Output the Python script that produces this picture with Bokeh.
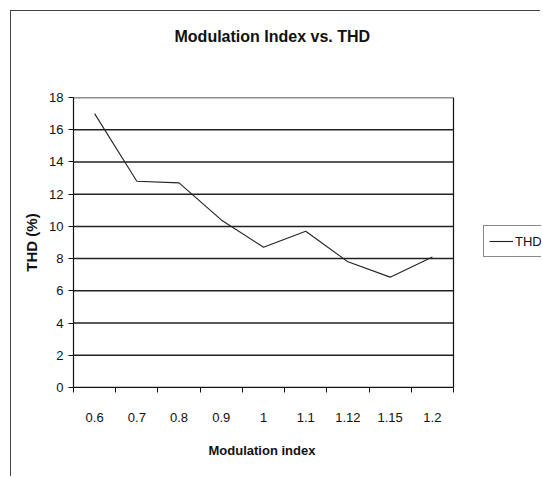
from bokeh.plotting import figure
from bokeh.models import FixedTicker, Legend, Range1d, Title, Span
from bokeh.embed import file_html
from bokeh.resources import INLINE

categories = ["0.6", "0.7", "0.8", "0.9", "1", "1.1", "1.12", "1.15", "1.2"]
thd = [17.0, 12.8, 12.7, 10.4, 8.7, 9.7, 7.8, 6.85, 8.1]
y_ticks = [0, 2, 4, 6, 8, 10, 12, 14, 16, 18]

n = len(categories)
xs = [i + 0.5 for i in range(n)]
FONT = "Liberation Sans"

# frame spans from plot-area left to the canvas right edge; the plot area uses 380 px of 468
x_end = n * 468 / 380

p = figure(width=530, height=466, output_backend="svg", toolbar_location=None,
           x_range=Range1d(0, x_end), y_range=Range1d(0, 18),
           min_border_left=62, min_border_top=86, min_border_right=0, min_border_bottom=90)
p.styles = {"border-left": "1px solid #444", "border-top": "1px solid #444",
            "margin-left": "10px", "margin-top": "10px"}
p.background_fill_color = "white"
p.border_fill_color = "white"
p.outline_line_color = None

# horizontal grid lines limited to the plot area
p.segment(x0=[0] * len(y_ticks), x1=[n] * len(y_ticks), y0=y_ticks, y1=y_ticks,
          line_color="#222", line_width=1.5)
p.add_layout(Span(location=n, dimension="height", line_color="#111", line_width=1.2))

r = p.line(xs, thd, line_color="#222", line_width=1.1)

# x axis
p.xaxis.bounds = (0, n)
p.xaxis.ticker = FixedTicker(ticks=xs, minor_ticks=list(range(n + 1)))
p.xaxis.major_label_overrides = {x: c for x, c in zip(xs, categories)}
p.xaxis.major_tick_out = 0
p.xaxis.major_tick_in = 0
p.xaxis.minor_tick_out = 5
p.xaxis.minor_tick_in = 0
p.xaxis.minor_tick_line_color = "#111"
p.xaxis.major_label_standoff = 20

# y axis
p.yaxis.ticker = FixedTicker(ticks=y_ticks)
p.yaxis.major_tick_out = 5
p.yaxis.major_tick_in = 0
p.yaxis.minor_tick_line_color = None
p.yaxis.major_label_standoff = 5
p.yaxis.axis_label = "THD (%)"
p.yaxis.axis_label_standoff = 6

for ax in (p.xaxis[0], p.yaxis[0]):
    ax.axis_line_color = "#111"
    ax.axis_line_width = 1.2
    ax.major_tick_line_color = "#111"
    ax.major_label_text_font = FONT
    ax.major_label_text_font_size = "13px"
    ax.major_label_text_color = "#111"
    ax.axis_label_text_font = FONT
    ax.axis_label_text_font_style = "bold"
    ax.axis_label_text_color = "#111"
p.yaxis.axis_label_text_font_size = "15px"

p.xgrid.grid_line_color = None
p.ygrid.grid_line_color = None

# x-axis title, centred under the plot area (not the wider frame)
p.add_layout(Title(text="Modulation index", align="left", offset=135,
                   vertical_align="top",
                   text_font=FONT, text_font_style="bold", text_font_size="13px",
                   text_color="#111", standoff=36), "below")

# spacer between the plot area and the title, then the title itself
p.title = None
p.add_layout(Title(text=" ", text_font_size="10px", standoff=23), "above")
p.add_layout(Title(text="Modulation Index vs. THD", align="left", offset=101,
                   vertical_align="top",
                   text_font=FONT, text_font_style="bold", text_font_size="16px",
                   text_color="#111", standoff=30), "above")

legend = Legend(items=[("THD", [r])], location=(410, 130), orientation="vertical",
                border_line_color="#111", border_line_width=1.2,
                background_fill_color="white", background_fill_alpha=1,
                padding=5, margin=0, glyph_width=24, glyph_height=20,
                label_height=20, label_standoff=2, spacing=0,
                label_text_font=FONT, label_text_font_size="13px", label_text_color="#111")
p.add_layout(legend, "center")

open("out.html", "w").write(file_html(p, INLINE))
